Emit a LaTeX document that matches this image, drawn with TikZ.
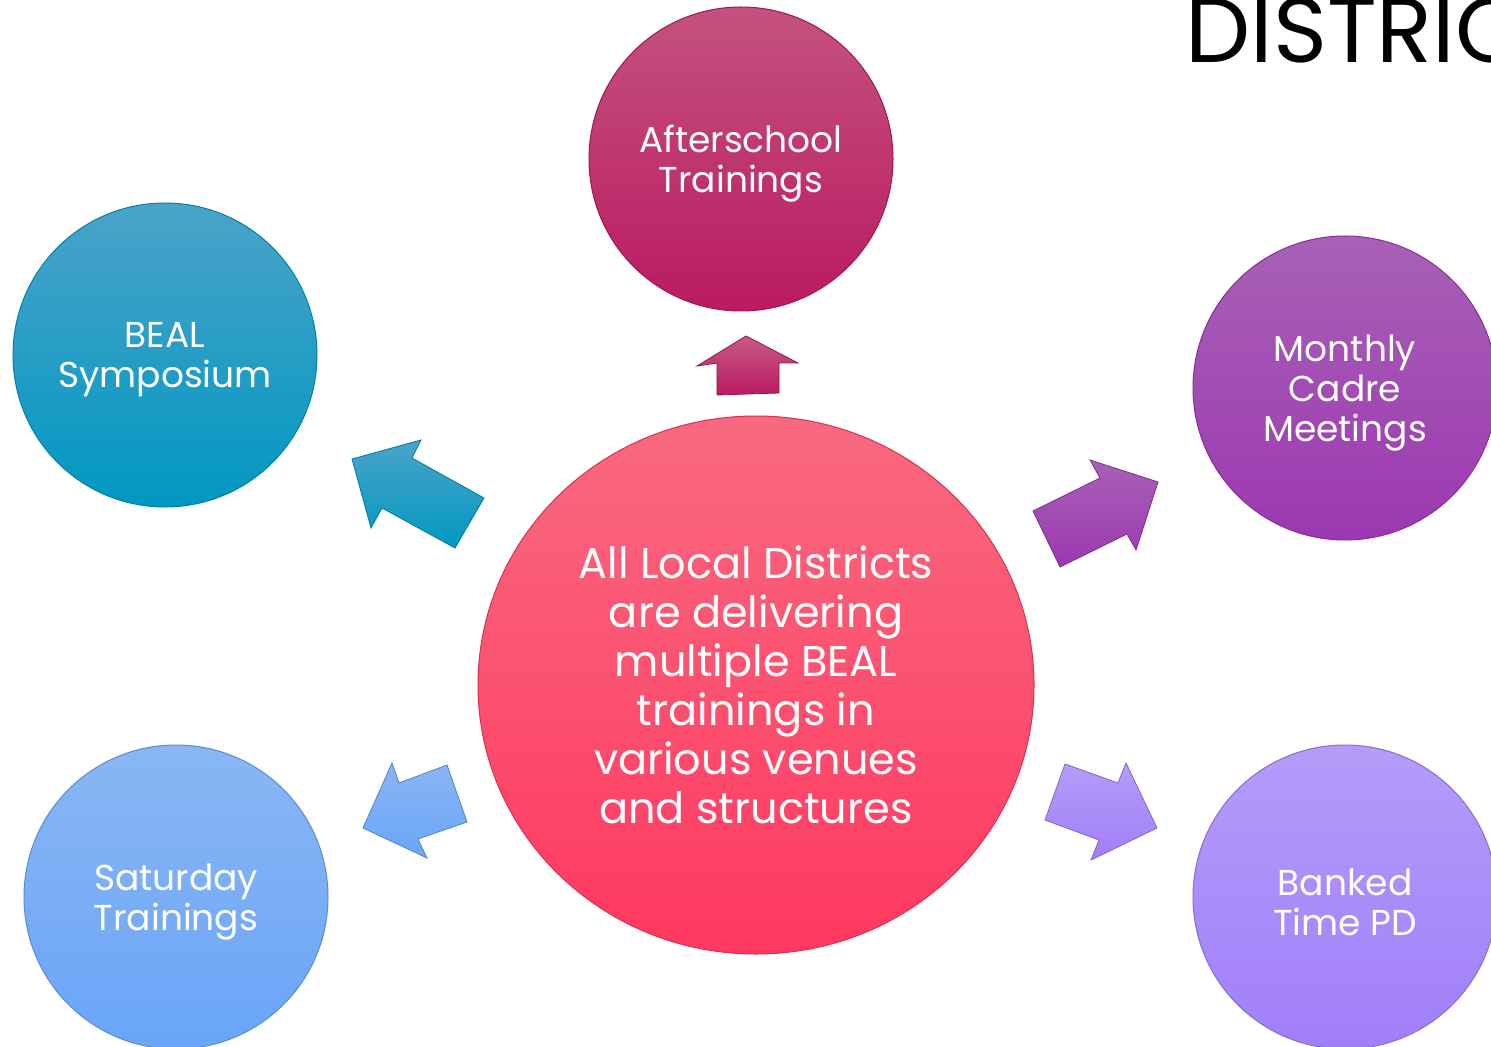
\documentclass[tikz,border=0pt]{standalone}
\usepackage{fontspec}
\setmainfont{Poppins}
\usetikzlibrary{shapes.geometric}
\definecolor{midtop}{HTML}{F86A80}
\definecolor{midbot}{HTML}{FF3860}
\definecolor{aftop}{HTML}{C4527E}
\definecolor{afbot}{HTML}{BA1A62}
\definecolor{symtop}{HTML}{4BA3C9}
\definecolor{symbot}{HTML}{0098C2}
\definecolor{montop}{HTML}{A861B5}
\definecolor{monbot}{HTML}{9C38B2}
\definecolor{sattop}{HTML}{8AB6F4}
\definecolor{satbot}{HTML}{69A5F8}
\definecolor{bantop}{HTML}{B49CF9}
\definecolor{banbot}{HTML}{A17EF9}
\tikzset{
  ball/.style={circle, minimum size=152pt, inner sep=0pt, line width=0.5pt},
  balltext/.style={align=center, text=white, yshift=-2.5pt,
    font=\fontsize{18}{20}\selectfont},
  blockarrow/.style={line width=0.4pt}
}
\begin{document}
\begin{tikzpicture}[x=0.5pt,y=-0.5pt]
  \useasboundingbox (0,0) rectangle (1491,1047);
  \fill[white] (0,0) rectangle (1491,1047);
  % title, cut off at the border
  \node[anchor=base west, inner sep=0pt, font=\fontsize{46}{50}\selectfont] (title)
    at (1185,63) {DISTRICT};
  % centre
  \node[ellipse, minimum width=278pt, minimum height=269pt, inner sep=0pt,
    top color=midtop, bottom color=midbot, draw=midbot!85!black,
    line width=0.5pt, align=center, text=white,
    font=\fontsize{21.5}{24.5}\selectfont] (mid) at (756,685)
    {All Local Districts\\are delivering\\multiple BEAL\\trainings in\\various venues\\and structures};
  % outer circles
  \node[ball, top color=aftop, bottom color=afbot, draw=afbot!85!black,
    label={[balltext]center:Afterschool\\Trainings}] (after) at (741,159) {};
  \node[ball, top color=symtop, bottom color=symbot, draw=symbot!85!black,
    label={[balltext]center:BEAL\\Symposium}] (sym) at (165,355) {};
  \node[ball, top color=montop, bottom color=monbot, draw=monbot!85!black,
    label={[balltext]center:Monthly\\Cadre\\Meetings}] (month) at (1345,388) {};
  \node[ball, top color=sattop, bottom color=satbot, draw=satbot!85!black,
    label={[balltext]center:Saturday\\Trainings}] (sat) at (176,897) {};
  \node[ball, top color=bantop, bottom color=banbot, draw=banbot!85!black,
    label={[balltext]center:Banked\\Time PD}] (bank) at (1345,897) {};
  % block arrows
  \draw[blockarrow, top color=aftop!95!white, bottom color=afbot, draw=afbot!80!black]
    (746,336) -- (798,363) -- (779,363) -- (779,393) -- (717,395)
    -- (717,363) -- (697,366) -- cycle;
  \draw[blockarrow, top color=symtop, bottom color=symbot, draw=symbot!80!black]
    (352,459) -- (421,440) -- (412,458) -- (484,498) -- (455,548)
    -- (382,508) -- (371,528) -- cycle;
  \draw[blockarrow, top color=montop, bottom color=monbot, draw=monbot!80!black]
    (1158,482) -- (1136,550) -- (1127,534) -- (1060,567) -- (1033,511)
    -- (1100,478) -- (1090,460) -- cycle;
  \draw[blockarrow, top color=sattop, bottom color=satbot, draw=satbot!80!black]
    (363,828) -- (392,763) -- (399,783) -- (447,765) -- (467,822)
    -- (418,839) -- (427,858) -- cycle;
  \draw[blockarrow, top color=bantop, bottom color=banbot, draw=banbot!80!black]
    (1157,828) -- (1091,860) -- (1099,840) -- (1045,820) -- (1065,764)
    -- (1118,783) -- (1126,763) -- cycle;
\end{tikzpicture}
\end{document}
